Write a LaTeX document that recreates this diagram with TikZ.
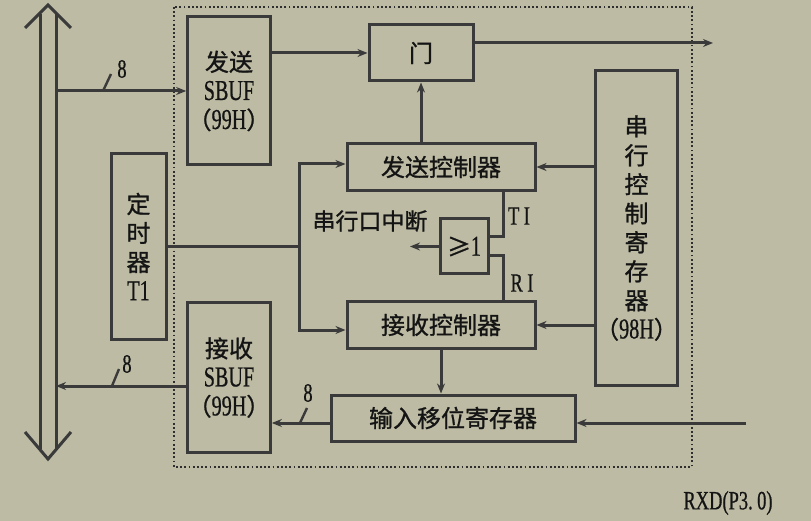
\documentclass[tikz,border=0pt]{standalone}
\usepackage{fontspec}
\setmainfont{Liberation Serif}[FakeStretch=0.7,Scale=1.2,FakeBold=0.6]
\newfontfamily\cjk{Noto Sans CJK SC}[FakeBold=1]
\usetikzlibrary{arrows.meta,positioning}
\definecolor{slate}{RGB}{189,187,164}
\definecolor{ink}{RGB}{58,58,58}
\tikzset{
  uBox/.style={draw=ink, line width=3pt, inner sep=0pt, align=center,
    text=black!92, font=\fontsize{24}{29}\selectfont\cjk},
  %% connectors
  uSig/.style={draw=ink, line width=3pt, -{Stealth[length=10pt,width=8pt]}},
  uWire/.style={draw=ink, line width=3pt},
  uTick/.style={draw=ink, line width=2.4pt},
  uFrame/.style={draw=ink!80!black, line width=1.8pt, dash pattern=on 1.8pt off 2.4pt},
  %% loose labels
  uLbl/.style={inner sep=0pt, text=black!92, font=\fontsize{22}{26}\selectfont},
}

\begin{document}
\begin{tikzpicture}[x=1pt, y=-1pt]
\fill[slate] (0,0) rectangle (811,521);
\useasboundingbox (0,0) rectangle (811,521);

%% serial port outline
\draw[uFrame] (174,7) rectangle (692,467);

%% data bus
\coordinate (busR) at (56,0);
\foreach \x in {40, 56}
  \draw[uWire] (\x,14) -- (\x,449);
\draw[uWire] (25,28) -- (48,5) -- (71,28);
\draw[uWire] (25,432) -- (48,459) -- (71,432);

\node[uBox, minimum width=78pt,  minimum height=148pt] (sbufT)   at (229,91)    {发送\\{\rmfamily SBUF}\\（{\rmfamily 99H}）};
\node[uBox, minimum width=104pt, minimum height=56pt]  (gate)    at (421,53)    {门};
\node[uBox, minimum width=188pt, minimum height=47pt]  (sendCtl) at (441,167)   {发送控制器};
\node[uBox, minimum width=188pt, minimum height=46pt]  (recvCtl) at (441,325)   {接收控制器};
\node[uBox, minimum width=79pt,  minimum height=314pt] (serCtl)  at (636.5,228) {串\\行\\控\\制\\寄\\存\\器\\（{\rmfamily 98H}）};
\node[uBox, minimum width=55pt,  minimum height=185pt] (timer)   at (138.5,246.5) {定\\时\\器\\{\rmfamily T1}};
\node[uBox, minimum width=48pt,  minimum height=55pt]  (orGate)  at (464,246.5) {≥{\rmfamily 1}};
\node[uBox, minimum width=78pt,  minimum height=149pt] (sbufR)   at (229,377.5) {接收\\{\rmfamily SBUF}\\（{\rmfamily 99H}）};
\node[uBox, minimum width=244pt, minimum height=46pt]  (shiftReg) at (453,418)  {输入移位寄存器};

%% transmit side
\draw[uSig] (busR |- sbufT.west) -- (sbufT.west);
\draw[uTick] (103,91) -- ++(8,-17);
\node[uLbl] (w1) at (122,69) {8};
\draw[uSig] (sbufT.east |- gate.west) -- (gate.west);
\coordinate (txd) at (713,43);
\draw[uSig] (gate.east |- txd) -- (txd);
\draw[uSig] (sendCtl.north -| gate.south) -- (gate.south);

%% control
\draw[uSig] (serCtl.west |- sendCtl.east) -- (sendCtl.east);
\draw[uSig] (serCtl.west |- recvCtl.east) -- (recvCtl.east);
\coordinate (fork) at (299,246.5);
\draw[uWire] (timer.east) -- (fork);
\draw[uSig] (fork) |- ([yshift=3pt]sendCtl.west);
\draw[uSig] (fork) |- ([yshift=-5pt]recvCtl.west);

%% interrupt
\draw[uWire] ([xshift=62pt]sendCtl.south) |- ([yshift=9.5pt]orGate.east);
\draw[uWire] ([xshift=62pt]recvCtl.north) |- ([yshift=-9.5pt]orGate.east);
\coordinate (irq) at (410,246.5);
\draw[uSig] (orGate.west) -- (irq);
\node[uLbl, font=\fontsize{23}{26}\selectfont\cjk] (irqTxt) at (370,221) {串行口中断};
\node[uLbl] (tiTxt) at (519,216) {T\,I};
\node[uLbl] (riTxt) at (522,283) {R\,I};

%% receive side
\draw[uSig] (recvCtl.south) -- (recvCtl.south |- shiftReg.north);
\coordinate (srOut) at (0,423);
\draw[uSig] (shiftReg.west |- srOut) -- (sbufR.east |- srOut);
\draw[uTick] (300,423) -- ++(7,-15);
\node[uLbl] (w3) at (308,393) {8};
\coordinate (rxd) at (746,423);
\draw[uSig] (rxd) -- (shiftReg.east |- rxd);
\coordinate (rxIn) at (56,386);
\draw[uSig] (sbufR.west |- rxIn) -- (rxIn);
\draw[uTick] (112,386) -- ++(7,-17);
\node[uLbl] (w2) at (127,364) {8};
\node[uLbl] (rxdTxt) at (728,503) {RXD(P3.\,0)};
\end{tikzpicture}
\end{document}
